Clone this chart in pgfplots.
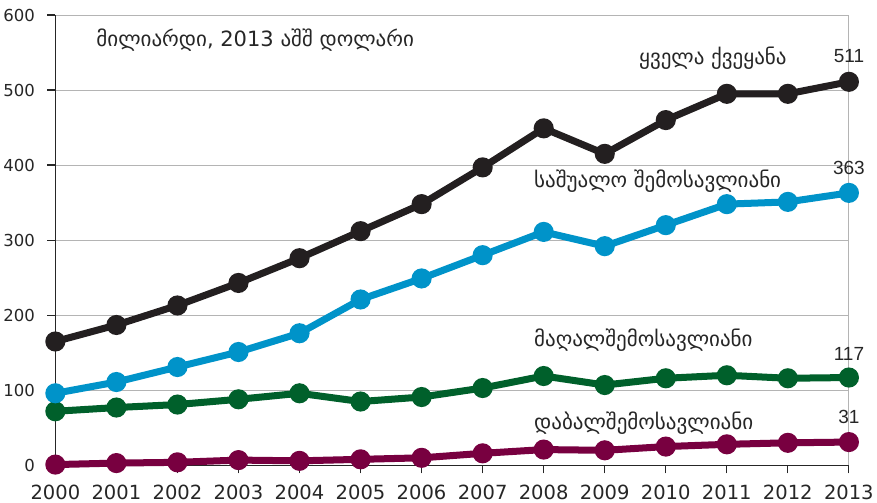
\documentclass[border=0pt]{standalone}
\usepackage{fontspec}
\setmainfont{DejaVu Sans}
\newfontfamily\numfont{Liberation Sans}
\usepackage{pgfplots}
\pgfplotsset{compat=1.18}
\definecolor{cWorld}{HTML}{231F20}
\definecolor{cMid}{HTML}{0093C9}
\definecolor{cHigh}{HTML}{00602B}
\definecolor{cLow}{HTML}{780040}
\definecolor{cGrid}{HTML}{B4B4B4}
\begin{document}
\begin{tikzpicture}
\begin{axis}[
    scale only axis,
    width=793pt, height=450pt,
    xmin=2000, xmax=2013, ymin=0, ymax=600,
    xtick={2000,...,2013}, ytick={0,100,...,600},
    axis x line*=bottom, axis y line*=left,
    axis line style={-, line width=1.3pt, color=black!85},
    tick align=outside, major tick length=8pt,
    tick style={line width=1.3pt, color=black!85},
    ymajorgrids, major grid style={cGrid, line width=1pt},
    /pgf/number format/1000 sep={},
    /pgf/number format/assume math mode=true,
    tick label style={text=black!85},
    yticklabel style={font=\fontsize{16.5}{20}\selectfont, xshift=-9pt},
    xticklabel style={font=\fontsize{19.5}{22}\selectfont, yshift=-8pt},
    every axis plot/.append style={line width=7pt, mark=*, mark size=6.5pt,
        mark options={line width=0pt}},
    clip=false,
]
\draw[cGrid, line width=1pt] (axis cs:2013,0) -- (axis cs:2013,600);

\addplot[cLow, mark options={fill=cLow}] coordinates {
 (2000,1) (2001,3) (2002,4) (2003,7) (2004,6) (2005,8) (2006,10)
 (2007,16) (2008,21) (2009,20) (2010,25) (2011,28) (2012,30) (2013,31)};
\addplot[cHigh, mark options={fill=cHigh}] coordinates {
 (2000,72) (2001,77) (2002,81) (2003,88) (2004,96) (2005,85) (2006,91)
 (2007,103) (2008,119) (2009,107) (2010,116) (2011,120) (2012,116) (2013,117)};
\addplot[cMid, mark options={fill=cMid}] coordinates {
 (2000,96) (2001,111) (2002,131) (2003,151) (2004,176) (2005,221) (2006,249)
 (2007,280) (2008,311) (2009,292) (2010,320) (2011,348) (2012,351) (2013,363)};
\addplot[cWorld, mark options={fill=cWorld}] coordinates {
 (2000,165) (2001,187) (2002,213) (2003,243) (2004,276) (2005,312) (2006,348)
 (2007,397) (2008,449) (2009,415) (2010,460) (2011,495) (2012,495) (2013,511)};

\begin{scope}[every node/.style={font=\fontsize{21}{24}\selectfont, text=black!85, inner sep=0pt}]
\node[anchor=west] at (axis cs:2000.67,567) {მილიარდი, 2013 აშშ დოლარი};
\node[anchor=west] at (axis cs:2009.56,543) {ყველა ქვეყანა};
\node[anchor=west] at (axis cs:2007.84,378) {საშუალო შემოსავლიანი};
\node[anchor=west] at (axis cs:2007.84,167) {მაღალშემოსავლიანი};
\node[anchor=west] at (axis cs:2007.84,56) {დაბალშემოსავლიანი};
\end{scope}
\begin{scope}[every node/.style={font=\numfont\fontsize{19}{22}\selectfont, text=black!85}]
\node at (axis cs:2013,545) {511};
\node at (axis cs:2013,396) {363};
\node at (axis cs:2013,149) {117};
\node at (axis cs:2013,64) {31};
\end{scope}
\end{axis}
\path ([yshift=15pt]current axis.north west);
\end{tikzpicture}
\end{document}
